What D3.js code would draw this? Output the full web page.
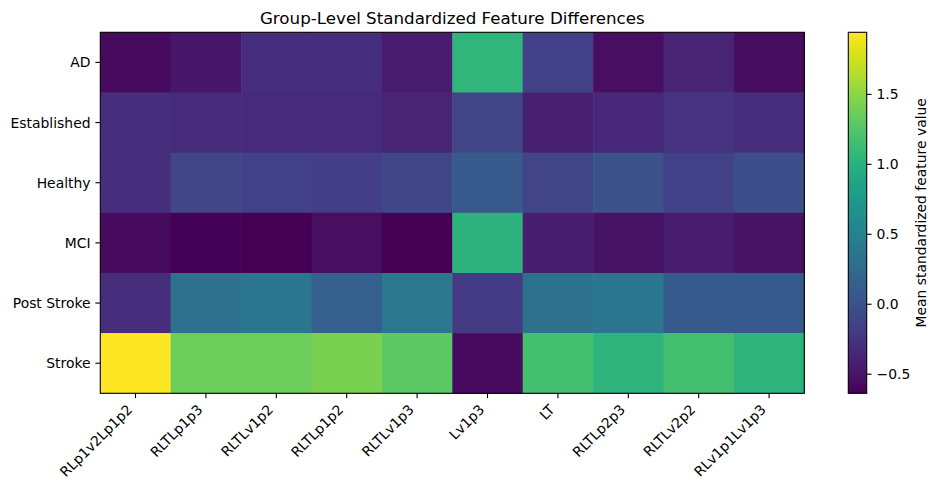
<!DOCTYPE html>
<html>
<head>
<meta charset="utf-8">
<script src="https://cdn.jsdelivr.net/npm/d3@7"></script>
<style>
  body { margin: 0; background: #fff; }
  svg { display: block; font-family: "DejaVu Sans", sans-serif; }
</style>
</head>
<body>
<svg id="chart" width="938" height="490"></svg>
<script>
"use strict";

var groups = ["AD", "Established", "Healthy", "MCI", "Post Stroke", "Stroke"];
var features = ["RLp1v2Lp1p2", "RLTLp1p3", "RLTLv1p2", "RLTLp1p2", "RLTLv1p3",
                "Lv1p3", "LT", "RLTLp2p3", "RLTLv2p2", "RLv1p1Lv1p3"];

// one row per group, in the order of features
var adValues          = [-0.56, -0.49, -0.30, -0.30, -0.43,  1.05, -0.15, -0.54, -0.38, -0.55];
var establishedValues = [-0.30, -0.33, -0.33, -0.33, -0.38, -0.12, -0.41, -0.34, -0.25, -0.30];
var healthyValues     = [-0.30, -0.10, -0.15, -0.17, -0.10,  0.07, -0.12,  0.01, -0.15, -0.02];
var mciValues         = [-0.56, -0.62, -0.64, -0.54, -0.63,  1.02, -0.42, -0.51, -0.43, -0.51];
var postStrokeValues  = [-0.30,  0.31,  0.37,  0.13,  0.38, -0.20,  0.31,  0.37,  0.08,  0.08];
var strokeValues      = [ 1.94,  1.36,  1.36,  1.42,  1.29, -0.56,  1.17,  1.03,  1.17,  1.03];

var colorbarTicks = [-0.5, 0.0, 0.5, 1.0, 1.5];

var rows = [adValues, establishedValues, healthyValues, mciValues, postStrokeValues, strokeValues];

var cells = [];
rows.forEach(function (row, i) {
  row.forEach(function (v, j) {
    cells.push({ group: groups[i], feature: features[j], value: v });
  });
});

var plot = { left: 100.3, right: 804.3, top: 32.3, bottom: 393.3 };
var bar = { left: 848.3, right: 866.7 };
var tickLen = 4.9;
var tickPad = 4.9;
var fontSize = 13.9;

var svg = d3.select("#chart");

var x = d3.scaleBand().domain(features).range([plot.left, plot.right]);
var y = d3.scaleBand().domain(groups).range([plot.top, plot.bottom]);
var extent = d3.extent(cells, function (d) { return d.value; });
var color = d3.scaleSequential(d3.interpolateViridis).domain(extent);

// heatmap cells
svg.append("g")
  .selectAll("rect")
  .data(cells)
  .join("rect")
  .attr("x", function (d) { return x(d.feature); })
  .attr("y", function (d) { return y(d.group); })
  .attr("width", x.bandwidth() + 0.5)
  .attr("height", y.bandwidth() + 0.5)
  .attr("fill", function (d) { return color(d.value); });

svg.append("rect")
  .attr("x", plot.left)
  .attr("y", plot.top)
  .attr("width", plot.right - plot.left)
  .attr("height", plot.bottom - plot.top)
  .attr("fill", "none")
  .attr("stroke", "#000")
  .attr("stroke-width", 1.1);

// x axis
var xAxis = svg.append("g").attr("transform", "translate(0," + plot.bottom + ")");
features.forEach(function (f) {
  var cx = x(f) + x.bandwidth() / 2;
  xAxis.append("line")
    .attr("x1", cx).attr("x2", cx)
    .attr("y1", 0).attr("y2", tickLen)
    .attr("stroke", "#000").attr("stroke-width", 1.1);
  var ax = cx - 0.707 * 0.24 * fontSize;
  var ay = tickLen + tickPad + 0.707 * 0.76 * fontSize;
  xAxis.append("text")
    .attr("transform", "translate(" + ax + "," + ay + ") rotate(-45)")
    .attr("text-anchor", "end")
    .attr("font-size", fontSize)
    .attr("fill", "#000")
    .text(f);
});

// y axis
var yAxis = svg.append("g");
groups.forEach(function (g) {
  var cy = y(g) + y.bandwidth() / 2;
  yAxis.append("line")
    .attr("x1", plot.left - tickLen).attr("x2", plot.left)
    .attr("y1", cy).attr("y2", cy)
    .attr("stroke", "#000").attr("stroke-width", 1.1);
  yAxis.append("text")
    .attr("x", plot.left - tickLen - tickPad)
    .attr("y", cy)
    .attr("dy", "0.36em")
    .attr("text-anchor", "end")
    .attr("font-size", fontSize)
    .attr("fill", "#000")
    .text(g);
});

// title
svg.append("text")
  .attr("x", (plot.left + plot.right) / 2)
  .attr("y", plot.top - 8.6)
  .attr("text-anchor", "middle")
  .attr("font-size", 16.7)
  .attr("fill", "#000")
  .text("Group-Level Standardized Feature Differences");

// colorbar
var cbScale = d3.scaleLinear().domain(extent).range([plot.bottom, plot.top]);

var grad = svg.append("defs").append("linearGradient")
  .attr("id", "cbGrad")
  .attr("x1", "0").attr("y1", "1")
  .attr("x2", "0").attr("y2", "0");
d3.range(0, 1.0001, 0.02).forEach(function (t) {
  grad.append("stop")
    .attr("offset", t)
    .attr("stop-color", d3.interpolateViridis(t));
});

svg.append("rect")
  .attr("x", bar.left)
  .attr("y", plot.top)
  .attr("width", bar.right - bar.left)
  .attr("height", plot.bottom - plot.top)
  .attr("fill", "url(#cbGrad)")
  .attr("stroke", "#000")
  .attr("stroke-width", 1.1);

var cbAxis = svg.append("g")
  .attr("transform", "translate(" + bar.right + ",0)")
  .call(d3.axisRight(cbScale)
    .tickValues(colorbarTicks)
    .tickFormat(d3.format(".1f"))
    .tickSize(tickLen)
    .tickPadding(tickPad)
    .tickSizeOuter(0));
cbAxis.select(".domain").remove();
cbAxis.selectAll(".tick line").attr("stroke", "#000").attr("stroke-width", 1.1);
cbAxis.selectAll(".tick text")
  .attr("font-size", fontSize)
  .attr("font-family", "DejaVu Sans")
  .attr("fill", "#000");

svg.append("text")
  .attr("transform", "translate(920.5," + (plot.top + plot.bottom) / 2 + ") rotate(-90)")
  .attr("text-anchor", "middle")
  .attr("dy", "0.36em")
  .attr("font-size", fontSize)
  .attr("fill", "#000")
  .text("Mean standardized feature value");
</script>
</body>
</html>
